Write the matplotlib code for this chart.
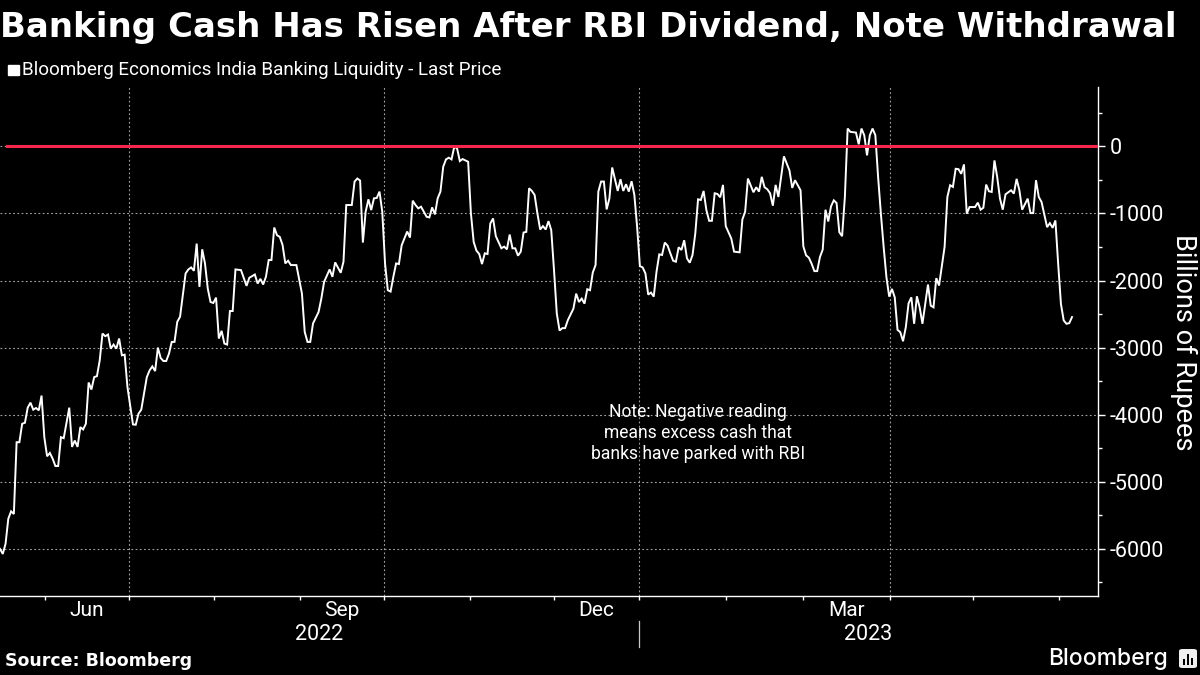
import matplotlib
matplotlib.use("Agg")
import matplotlib.pyplot as plt
from matplotlib.patches import FancyBboxPatch, Rectangle

TITLE = "Banking Cash Has Risen After RBI Dividend, Note Withdrawal"
SERIES = "Bloomberg Economics India Banking Liquidity - Last Price"
NOTE = "Note: Negative reading\nmeans excess cash that\nbanks have parked with RBI"
SOURCE = "Source: Bloomberg"
YLABEL = "Billions of Rupees"

# days since the left edge of the axis (mid-May 2022)
days = [0,1,2,3,4,5,6,7,8,9,10,11,12,13,14,15,16,17,18,19,20,21,22,23,25,26,27,28,29,30,31,32,33,34,35,36,37,38,39,40,41,42,43,44,45,46,48,49,50,51,53,54,55,56,57,58,59,60,61,62,63,64,65,67,68,69,70,71,72,73,74,75,76,77,78,79,80,81,82,83,84,85,87,89,90,92,93,94,95,96,97,98,99,100,101,102,103,104,105,107,109,110,111,112,113,115,116,117,119,120,121,123,124,125,127,128,129,130,131,132,133,134,135,136,137,138,139,140,141,142,143,144,
145,147,148,149,150,151,152,154,155,156,157,158,159,160,161,162,163,164,165,166,167,169,170,171,172,173,174,175,176,177,178,179,181,182,183,184,185,186,187,188,189,190,191,192,193,194,195,196,197,198,199,200,201,202,203,204,205,207,208,209,210,211,212,213,214,215,216,217,218,219,220,221,223,224,225,226,227,228,229,230,231,232,233,234,235,236,237,238,239,240,241,242,243,244,245,246,247,248,249,250,251,252,253,254,255,256,257,258,259,260,261,262,264,265,267,268,269,270,272,273,274,275,276,277,278,279,280,281,
283,285,286,287,288,289,290,291,292,293,294,295,296,297,298,299,300,301,302,303,304,305,306,307,309,310,311,312,313,314,315,316,317,318,319,320,321,322,323,324,325,326,327,328,329,330,331,332,333,335,336,337,338,339,341,342,343,344,345,346,347,348,349,350,352,353,354,355,356,357,358,359,360,361,362,363,365,366,367,368,369,371,372,373,374,375,376,378,379,380,381,382,383,384,385,386,387]

liquidity = [-6000,-6075,-5925,-5550,-5440,-5480,-4410,-4410,-4135,-4120,-3895,-3820,-3925,-3900,-3935,-3715,-4335,-4620,-4570,-4655,-4765,-4765,-4335,-4350,-3895,-4480,-4385,-4480,-4185,-4220,-4135,-3520,-3625,-3440,-3425,-3190,-2790,-2830,-2805,-3015,-2955,-3015,-2865,-3115,-3105,-3585,-4145,-4150,-3985,-3925,-3440,-3340,-3280,-3350,-3000,-3155,-3200,-3200,-3090,-2915,-2915,-2615,-2540,-1895,-1835,-1805,-1855,-1450,-2095,-1535,-1745,-2120,-2320,-2335,-2255,-2865,-2750,-2940,-2955,-2455,-2455,-1835,-1845,-2080,-1960,-1910,-2045,-1975,-2060,-1945,-1695,-1695,-1210,-1325,-1350,-1470,-1745,-1705,-1770,-1770,-2195,-2765,-2915,-2915,-2640,-2470,-2270,-2020,-1835,-1945,-1730,-1885,-1720,-875,-875,-525,-480,-510,-1435,-975,-790,-950,-775,-770,-675,-975,-1745,-2145,-2165,-1945,-1745,-1755,
-1475,-1270,-1360,-810,-875,-925,-900,-1050,-1060,-910,-1015,-775,-675,-305,-195,-170,-195,-5,-30,-220,-190,-230,-1000,-1425,-1555,-1605,-1755,-1595,-1605,-1150,-1075,-1340,-1520,-1495,-1535,-1315,-1520,-1520,-1630,-1570,-1285,-1275,-625,-665,-725,-1000,-1240,-1190,-1240,-1115,-1250,-1845,-2490,-2745,-2710,-2710,-2590,-2420,-2195,-2320,-2270,-2345,-2130,-2145,-1880,-1770,-675,-525,-525,-940,-775,-315,-665,-490,-665,-565,-675,-520,-725,-1200,-1785,-1805,-1895,-2210,-2180,-2240,-1870,-1610,-1620,-1435,-1480,-1595,-1705,-1720,-1505,-1545,-1400,-1670,-1735,-1620,-1300,-790,-800,-665,-950,-1110,-1110,-700,-710,-760,-575,-1190,-1375,-1570,-1580,-1090,-975,-480,-685,-610,-675,-455,-610,-640,-700,-885,-575,-755,
-150,-360,-620,-505,-580,-655,-1490,-1625,-1660,-1750,-1860,-1860,-1650,-1540,-945,-1120,-895,-805,-845,-1280,-1340,-755,265,215,205,30,265,165,-135,165,265,165,-460,-1005,-1500,-1950,-2240,-2125,-2250,-2735,-2770,-2905,-2695,-2340,-2250,-2645,-2235,-2400,-2645,-2060,-2375,-2400,-1965,-2075,-1500,-755,-580,-605,-335,-340,-410,-270,-1005,-905,-905,-840,-945,-915,-570,-670,-680,-210,-460,-780,-945,-715,-655,-705,-485,-655,-945,-780,-995,-995,-505,-755,-830,-1205,-1145,-1215,-1105,-1750,-2350,-2595,-2645,-2635,-2545]

month_ticks = [16.1,46.4,77.3,108.3,138.6,169.7,199.9,230.7,262.1,289.9,321.3,351.3,382.3]
quarter_ticks = [46.4,138.6,230.7,321.3]
month_labels = ["Jun","Sep","Dec","Mar"]
month_label_pos = [31.2,123.4,215.3,305.6]
year_labels = ["2022","2023"]
year_label_pos = [115.3,313.4]
year_divider = 230.7
y_major = [0,-1000,-2000,-3000,-4000,-5000,-6000]
y_minor = [500,-500,-1500,-2500,-3500,-4500,-5500,-6500]
threshold = 0

W, H = 1200, 675
fig = plt.figure(figsize=(W/100, H/100), dpi=100, facecolor="black")
ax = fig.add_axes([0, 1-596/H, 1097.5/W, (596-87)/H], facecolor="black")
ax.set_xlim(0, 396.2)
ax.set_ylim(-6702, 884)

grid = dict(color="#a0a0a0", lw=0.8, dashes=(1.6, 2.2))
for y in y_major:
    ax.axhline(y, **grid, zorder=1)
for x in quarter_ticks:
    ax.axvline(x, **grid, zorder=1)

ax.plot(days, liquidity, color="white", lw=1.4, solid_joinstyle="miter", zorder=3)
ax.axhline(threshold, xmin=7/1097.5, color="#f9264c", lw=2.2, zorder=4)

for s in ("left", "top"):
    ax.spines[s].set_visible(False)
for s in ("right", "bottom"):
    ax.spines[s].set_color("white")
    ax.spines[s].set_linewidth(1.0)

FONT = "Roboto"
ax.yaxis.tick_right()
ax.set_yticks(y_major)
ax.set_yticks(y_minor, minor=True)
ax.set_yticklabels(["0" if v == 0 else "-" + str(-v) for v in y_major],
                   fontsize=15.5, color="white", family=FONT)
ax.tick_params(axis="y", which="major", length=5, width=1, color="white", pad=4)
ax.tick_params(axis="y", which="minor", length=3.2, width=1, color="white")
ax.set_xticks(month_ticks)
ax.set_xticklabels([])
ax.tick_params(axis="x", which="major", length=3.2, width=1, color="white")

for p, t in zip(month_label_pos, month_labels):
    fig.text(ax.transData.transform((p, 0))[0]/W, 1-611/H, t, ha="center", va="center",
             fontsize=15, color="white", family=FONT)
for p, t in zip(year_label_pos, year_labels):
    fig.text(ax.transData.transform((p, 0))[0]/W, 1-635/H, t, ha="center", va="center",
             fontsize=15.5, color="white", family=FONT)
xd = ax.transData.transform((year_divider, 0))[0]/W
fig.add_artist(plt.Line2D([xd, xd], [1-621/H, 1-647/H], color="#c8c8c8", lw=0.9))

fig.text(0/W, 1-28/H, TITLE, ha="left", va="center", fontsize=24.45, fontweight="bold",
         color="white", family="DejaVu Sans")
fig.add_artist(Rectangle((8/W, 1-75/H), 11/W, 10/H, color="white", transform=fig.transFigure))
fig.text(22/W, 1-70/H, SERIES, ha="left", va="center", fontsize=13.6, color="white", family=FONT)
fig.text(698/W, 1-433/H, NOTE, ha="center", va="center", fontsize=12.65, color="white",
         family=FONT, linespacing=1.2, multialignment="center")
fig.text(1184/W, 1-342/H, YLABEL, ha="center", va="center", rotation=270, fontsize=19.6,
         color="white", family=FONT)
fig.text(5/W, 1-661/H, SOURCE, ha="left", va="center", fontsize=12.5, fontweight="bold",
         color="white", family="DejaVu Sans")
fig.text(1048/W, 1-659/H, "Bloomberg", ha="left", va="center", fontsize=16.5, fontweight="medium",
         color="white", family="Inter")
# logo mark
fig.add_artist(FancyBboxPatch((1179/W, 1-668/H), 18/W, 19/H,
                              boxstyle="round,pad=0,rounding_size=0.003",
                              transform=fig.transFigure, color="#efefef", lw=0))
for bx, bh in zip((1183, 1187, 1191), (6, 11, 7)):
    fig.add_artist(Rectangle((bx/W, 1-665/H), 2/W, bh/H, color="black",
                             transform=fig.transFigure, lw=0))

fig.savefig("out.png", dpi=100, facecolor="black")
